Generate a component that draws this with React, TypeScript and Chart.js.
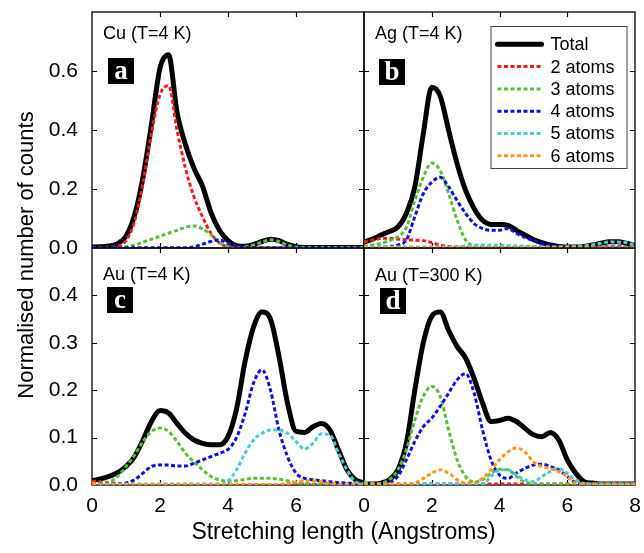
import React, { useEffect, useRef } from "react";
import { Chart, registerables } from "chart.js";

Chart.register(...registerables);

// ---------------- data ----------------
const X_VALUES = [
  0, 0.25, 0.5, 0.75, 1, 1.25, 1.5, 1.75, 2, 2.25, 2.5, 2.75, 3, 3.25, 3.5, 3.75, 4,
  4.25, 4.5, 4.75, 5, 5.25, 5.5, 5.75, 6, 6.25, 6.5, 6.75, 7, 7.25, 7.5, 7.75, 8,
];
const X_TICK_LABELS = ["0", "2", "4", "6", "8"];
const SERIES_NAMES = ["Total", "2 atoms", "3 atoms", "4 atoms", "5 atoms", "6 atoms"];
const PANEL_TITLES = ["Cu (T=4 K)", "Ag (T=4 K)", "Au (T=4 K)", "Au (T=300 K)"];
const PANEL_LETTERS = ["a", "b", "c", "d"];
const X_AXIS_TITLE = "Stretching length (Angstroms)";
const Y_AXIS_TITLE = "Normalised number of counts";

// Panel a: Cu (T=4 K)
const CU_TOTAL = [0.003, 0.004, 0.007, 0.014, 0.04, 0.11, 0.24, 0.42, 0.61, 0.655, 0.46, 0.35, 0.27, 0.21, 0.12, 0.06, 0.025, 0.008, 0.006, 0.012, 0.022, 0.03, 0.025, 0.012, 0.004, 0.002, 0.002, 0.002, 0.002, 0.002, 0.002, 0.002, 0.002];
const CU_2 = [0.002, 0.002, 0.003, 0.006, 0.025, 0.09, 0.22, 0.39, 0.52, 0.55, 0.4, 0.27, 0.173, 0.106, 0.05, 0.017, 0.004, 0.001, 0.001, 0.001, 0.001, 0.001, 0.001, 0.001, 0.001, 0.001, 0.001, 0.001, 0.001, 0.001, 0.001, 0.001, 0.001];
const CU_3 = [0.001, 0.001, 0.001, 0.001, 0.004, 0.01, 0.02, 0.03, 0.04, 0.05, 0.06, 0.07, 0.075, 0.065, 0.045, 0.018, 0.005, 0.002, 0.004, 0.01, 0.02, 0.028, 0.022, 0.01, 0.003, 0.002, 0.002, 0.002, 0.002, 0.002, 0.002, 0.002, 0.002];
const CU_4 = [0.001, 0.001, 0.001, 0.001, 0.001, 0.001, 0.001, 0.001, 0.001, 0.001, 0.001, 0.001, 0.004, 0.013, 0.022, 0.027, 0.016, 0.006, 0.002, 0.001, 0.001, 0.001, 0.001, 0.001, 0.001, 0.001, 0.001, 0.001, 0.001, 0.001, 0.001, 0.001, 0.001];

// Panel b: Ag (T=4 K)
const AG_TOTAL = [0.02, 0.03, 0.044, 0.056, 0.071, 0.117, 0.207, 0.387, 0.545, 0.515, 0.398, 0.285, 0.195, 0.134, 0.094, 0.08, 0.08, 0.077, 0.06, 0.044, 0.029, 0.018, 0.01, 0.005, 0.003, 0.003, 0.005, 0.01, 0.016, 0.021, 0.021, 0.016, 0.008];
const AG_2 = [0.02, 0.027, 0.032, 0.033, 0.03, 0.028, 0.027, 0.025, 0.018, 0.01, 0.005, 0.003, 0.002, 0.002, 0.002, 0.002, 0.002, 0.002, 0.002, 0.002, 0.002, 0.002, 0.002, 0.002, 0.002, 0.002, 0.002, 0.002, 0.002, 0.002, 0.002, 0.002, 0.002];
const AG_3 = [0.005, 0.01, 0.016, 0.025, 0.038, 0.07, 0.16, 0.24, 0.288, 0.262, 0.184, 0.094, 0.027, 0.007, 0.005, 0.004, 0.004, 0.004, 0.004, 0.004, 0.004, 0.004, 0.004, 0.004, 0.004, 0.004, 0.004, 0.004, 0.004, 0.004, 0.004, 0.004, 0.004];
const AG_4 = [0.002, 0.002, 0.003, 0.005, 0.01, 0.027, 0.106, 0.184, 0.223, 0.24, 0.207, 0.16, 0.117, 0.083, 0.066, 0.06, 0.06, 0.066, 0.049, 0.036, 0.025, 0.016, 0.008, 0.005, 0.003, 0.003, 0.003, 0.003, 0.003, 0.003, 0.003, 0.003, 0.003];
const AG_5 = [0.003, 0.003, 0.003, 0.003, 0.003, 0.003, 0.003, 0.003, 0.003, 0.003, 0.003, 0.005, 0.007, 0.01, 0.01, 0.01, 0.01, 0.008, 0.007, 0.006, 0.005, 0.004, 0.003, 0.003, 0.004, 0.005, 0.007, 0.011, 0.016, 0.021, 0.02, 0.018, 0.008];
const AG_6 = [0.001, 0.001, 0.001, 0.001, 0.001, 0.001, 0.001, 0.001, 0.001, 0.001, 0.001, 0.001, 0.001, 0.001, 0.001, 0.001, 0.001, 0.001, 0.001, 0.001, 0.001, 0.001, 0.001, 0.001, 0.001, 0.001, 0.001, 0.001, 0.001, 0.001, 0.001, 0.001, 0.001];

// Panel c: Au (T=4 K)
const AU4_TOTAL = [0.009, 0.013, 0.018, 0.026, 0.039, 0.06, 0.095, 0.134, 0.157, 0.152, 0.13, 0.109, 0.095, 0.088, 0.085, 0.085, 0.102, 0.16, 0.26, 0.333, 0.365, 0.35, 0.271, 0.173, 0.113, 0.111, 0.123, 0.13, 0.116, 0.074, 0.032, 0.011, 0.004];
const AU4_2 = [0.008, 0.007, 0.005, 0.003, 0.001, 0.001, 0.001, 0.001, 0.001, 0.001, 0.001, 0.001, 0.001, 0.001, 0.001, 0.001, 0.001, 0.001, 0.001, 0.001, 0.001, 0.001, 0.001, 0.001, 0.001, 0.001, 0.001, 0.001, 0.001, 0.001, 0.001, 0.001, 0.001];
const AU4_3 = [0.003, 0.004, 0.006, 0.018, 0.039, 0.063, 0.092, 0.113, 0.12, 0.113, 0.092, 0.067, 0.049, 0.032, 0.018, 0.011, 0.008, 0.009, 0.012, 0.014, 0.014, 0.014, 0.012, 0.009, 0.005, 0.003, 0.002, 0.002, 0.002, 0.002, 0.002, 0.002, 0.002];
const AU4_4 = [0.002, 0.002, 0.002, 0.003, 0.004, 0.011, 0.025, 0.039, 0.042, 0.042, 0.04, 0.04, 0.046, 0.053, 0.06, 0.067, 0.075, 0.1, 0.15, 0.215, 0.243, 0.2, 0.116, 0.06, 0.025, 0.014, 0.011, 0.009, 0.007, 0.005, 0.004, 0.003, 0.002];
const AU4_5 = [0.002, 0.002, 0.002, 0.002, 0.002, 0.002, 0.002, 0.002, 0.002, 0.002, 0.002, 0.002, 0.002, 0.002, 0.002, 0.002, 0.008, 0.032, 0.067, 0.095, 0.109, 0.116, 0.116, 0.109, 0.092, 0.076, 0.088, 0.108, 0.105, 0.068, 0.032, 0.007, 0.003];
const AU4_6 = [0.004, 0.001, 0.001, 0.001, 0.001, 0.001, 0.001, 0.001, 0.001, 0.001, 0.001, 0.001, 0.001, 0.001, 0.001, 0.001, 0.001, 0.001, 0.001, 0.001, 0.001, 0.001, 0.001, 0.003, 0.006, 0.009, 0.009, 0.007, 0.004, 0.002, 0.001, 0.001, 0.001];

// Panel d: Au (T=300 K)
const AU300_TOTAL = [0.002, 0.002, 0.004, 0.011, 0.032, 0.088, 0.2, 0.3, 0.356, 0.365, 0.326, 0.292, 0.268, 0.225, 0.173, 0.134, 0.136, 0.141, 0.134, 0.12, 0.106, 0.102, 0.111, 0.095, 0.053, 0.025, 0.007, 0.004, 0.002, 0.002, 0.002, 0.002, 0.002];
const AU300_2 = [0.002, 0.002, 0.002, 0.002, 0.002, 0.002, 0.002, 0.002, 0.002, 0.002, 0.002, 0.002, 0.002, 0.002, 0.002, 0.002, 0.002, 0.002, 0.002, 0.002, 0.002, 0.002, 0.002, 0.002, 0.002, 0.002, 0.002, 0.002, 0.002, 0.002, 0.002, 0.002, 0.002];
const AU300_3 = [0.002, 0.002, 0.004, 0.011, 0.032, 0.074, 0.137, 0.187, 0.208, 0.187, 0.116, 0.053, 0.018, 0.007, 0.011, 0.025, 0.033, 0.032, 0.018, 0.006, 0.003, 0.002, 0.002, 0.002, 0.002, 0.002, 0.002, 0.002, 0.002, 0.002, 0.002, 0.002, 0.002];
const AU300_4 = [0.002, 0.002, 0.002, 0.005, 0.018, 0.053, 0.092, 0.123, 0.141, 0.166, 0.194, 0.222, 0.235, 0.194, 0.116, 0.053, 0.021, 0.014, 0.025, 0.035, 0.042, 0.044, 0.039, 0.032, 0.018, 0.005, 0.002, 0.002, 0.002, 0.002, 0.002, 0.002, 0.002];
const AU300_5 = [0.007, 0.003, 0.002, 0.002, 0.002, 0.002, 0.002, 0.002, 0.002, 0.002, 0.002, 0.002, 0.002, 0.002, 0.002, 0.018, 0.032, 0.032, 0.021, 0.011, 0.007, 0.018, 0.028, 0.035, 0.025, 0.011, 0.003, 0.002, 0.002, 0.002, 0.002, 0.002, 0.002];
const AU300_6 = [0.002, 0.002, 0.002, 0.002, 0.002, 0.002, 0.004, 0.014, 0.025, 0.032, 0.025, 0.011, 0.004, 0.005, 0.014, 0.032, 0.053, 0.07, 0.078, 0.07, 0.049, 0.039, 0.035, 0.028, 0.018, 0.004, 0.002, 0.002, 0.002, 0.002, 0.002, 0.002, 0.002];

// ---------------- styles ----------------
const SERIES_COLORS = ["#000000", "#f01c1c", "#5cbd3b", "#0d0de6", "#4ccccc", "#ff961c"];
const FONT = "'Liberation Sans', Arial, Helvetica, sans-serif";
const W = 644;
const H = 553;

type Area = { l: number; t: number; r: number; b: number };
type Panel = {
  series: (number[] | null)[];
  yMax: number;
  yStep: number;
  showX: boolean;
  showY: boolean;
  hideLastX: boolean;
  legend: boolean;
  area: Area;
};

const PANELS: Panel[] = [
  { series: [CU_TOTAL, CU_2, CU_3, CU_4, null, null], yMax: 0.8, yStep: 0.2, showX: false, showY: true, hideLastX: false, legend: false, area: { l: 92, t: 12, r: 364, b: 248 } },
  { series: [AG_TOTAL, AG_2, AG_3, AG_4, AG_5, AG_6], yMax: 0.8, yStep: 0.2, showX: false, showY: false, hideLastX: false, legend: true, area: { l: 364, t: 12, r: 635, b: 248 } },
  { series: [AU4_TOTAL, AU4_2, AU4_3, AU4_4, AU4_5, AU4_6], yMax: 0.5, yStep: 0.1, showX: true, showY: true, hideLastX: true, legend: false, area: { l: 92, t: 248, r: 364, b: 485 } },
  { series: [AU300_TOTAL, AU300_2, AU300_3, AU300_4, AU300_5, AU300_6], yMax: 0.5, yStep: 0.1, showX: true, showY: false, hideLastX: false, legend: false, area: { l: 364, t: 248, r: 635, b: 485 } },
];

const framePlugin = {
  id: "frameTicks",
  beforeDatasetsDraw(chart: any) {
    const { ctx, chartArea: a, scales } = chart;
    ctx.save();
    ctx.strokeStyle = "#000";
    ctx.lineWidth = 1.3;
    ctx.strokeRect(a.left, a.top, a.right - a.left, a.bottom - a.top);
    ctx.lineWidth = 1.2;
    const len = 5;
    const xs = scales.x;
    const ys = scales.y;
    ctx.beginPath();
    xs.ticks.forEach((t: any) => {
      if (t.value <= xs.min + 1e-9 || t.value >= xs.max - 1e-9) return;
      const px = Math.round(xs.getPixelForValue(t.value)) + 0.5;
      ctx.moveTo(px, a.bottom);
      ctx.lineTo(px, a.bottom - len);
      ctx.moveTo(px, a.top);
      ctx.lineTo(px, a.top + len);
    });
    ys.ticks.forEach((t: any) => {
      if (t.value <= ys.min + 1e-9 || t.value >= ys.max - 1e-9) return;
      const py = Math.round(ys.getPixelForValue(t.value)) + 0.5;
      ctx.moveTo(a.left, py);
      ctx.lineTo(a.left + len, py);
      ctx.moveTo(a.right, py);
      ctx.lineTo(a.right - len, py);
    });
    ctx.stroke();
    ctx.restore();
  },
};

const legendPlugin = {
  id: "panelLegend",
  afterDatasetsDraw(chart: any) {
    const { ctx, chartArea: a } = chart;
    const boxW = 136;
    const boxH = 142;
    const left = a.right - 144.5;
    const top = a.top + 14;
    ctx.save();
    ctx.fillStyle = "#fff";
    ctx.fillRect(left, top, boxW, boxH);
    ctx.strokeStyle = "#444";
    ctx.lineWidth = 1;
    ctx.strokeRect(left + 0.5, top + 0.5, boxW, boxH);
    ctx.font = `18px ${FONT}`;
    ctx.textBaseline = "middle";
    ctx.textAlign = "left";
    chart.data.datasets.forEach((ds: any, i: number) => {
      const y = top + 18.3 + i * 22.3;
      ctx.strokeStyle = ds.borderColor;
      ctx.lineWidth = ds.borderWidth;
      ctx.setLineDash(ds.borderDash || []);
      ctx.lineCap = i === 0 ? "round" : "butt";
      ctx.beginPath();
      ctx.moveTo(left + 7, y);
      ctx.lineTo(left + 51, y);
      ctx.stroke();
      ctx.setLineDash([]);
      ctx.fillStyle = "#000";
      ctx.fillText(ds.label, left + 60, y + 1);
    });
    ctx.restore();
  },
};

function buildConfig(p: Panel): any {
  const datasets: any[] = [];
  p.series.forEach((vals, i) => {
    if (!vals) return;
    datasets.push({
      label: SERIES_NAMES[i],
      data: vals.map((y, k) => ({ x: X_VALUES[k], y })),
      borderColor: SERIES_COLORS[i],
      backgroundColor: SERIES_COLORS[i],
      borderWidth: i === 0 ? 5 : 3,
      borderDash: i === 0 ? [] : [4, 2.5],
      borderJoinStyle: "round",
      pointRadius: 0,
      cubicInterpolationMode: "monotone",
      fill: false,
      order: 10 - i,
    });
  });
  return {
    type: "line",
    data: { datasets },
    plugins: p.legend ? [framePlugin, legendPlugin] : [framePlugin],
    options: {
      animation: false,
      responsive: false,
      events: [],
      layout: { padding: { left: 0, top: p.area.t, right: W - p.area.r, bottom: 0 } },
      plugins: { legend: { display: false }, tooltip: { enabled: false }, title: { display: false } },
      scales: {
        x: {
          type: "linear",
          min: 0,
          max: 8,
          ticks: {
            stepSize: 2,
            display: p.showX,
            padding: 9,
            color: "#000",
            font: { size: 21, family: FONT },
            maxRotation: 0,
            autoSkip: false,
            callback: (v: number) => {
              if (p.hideLastX && v >= 8) return "";
              return X_TICK_LABELS[Math.round(v / 2)];
            },
          },
          grid: { display: false, drawTicks: false },
          border: { display: false },
          afterFit: (s: any) => {
            s.height = H - p.area.b;
            s.paddingLeft = 0;
            s.paddingRight = 0;
          },
        },
        y: {
          type: "linear",
          min: 0,
          max: p.yMax,
          ticks: {
            stepSize: p.yStep,
            display: p.showY,
            padding: 14,
            color: "#000",
            font: { size: 21, family: FONT },
            callback: (v: number) => (v >= p.yMax - 1e-9 ? "" : v.toFixed(1)),
          },
          grid: { display: false, drawTicks: false },
          border: { display: false },
          afterFit: (s: any) => {
            s.width = p.area.l;
            s.paddingTop = 0;
            s.paddingBottom = 0;
          },
        },
      },
    },
  };
}

function PanelCanvas({ panel }: { panel: Panel }) {
  const ref = useRef<HTMLCanvasElement | null>(null);
  useEffect(() => {
    if (!ref.current) return;
    const chart = new Chart(ref.current, buildConfig(panel));
    return () => chart.destroy();
  }, [panel]);
  return (
    <canvas
      ref={ref}
      width={W}
      height={H}
      style={{ position: "absolute", left: 0, top: 0, width: W, height: H, pointerEvents: "none" }}
    />
  );
}

const TITLE_POS = [
  { left: 103, top: 24 },
  { left: 375, top: 24 },
  { left: 103, top: 265 },
  { left: 375, top: 266 },
];
const BADGE_POS = [
  { left: 108, top: 58 },
  { left: 379, top: 59 },
  { left: 107, top: 287 },
  { left: 380, top: 288 },
];

export default function App() {
  return (
    <div
      style={{
        position: "fixed",
        left: 0,
        top: 0,
        width: W,
        height: H,
        background: "#fff",
        overflow: "hidden",
        fontFamily: FONT,
        color: "#000",
      }}
    >
      {PANELS.map((p, i) => (
        <PanelCanvas key={i} panel={p} />
      ))}
      {PANEL_TITLES.map((t, i) => (
        <div
          key={"t" + i}
          style={{
            position: "absolute",
            left: TITLE_POS[i].left,
            top: TITLE_POS[i].top,
            fontSize: 18,
            lineHeight: "18px",
            whiteSpace: "nowrap",
          }}
        >
          {t}
        </div>
      ))}
      {PANEL_LETTERS.map((l, i) => (
        <div
          key={"b" + i}
          style={{
            position: "absolute",
            left: BADGE_POS[i].left,
            top: BADGE_POS[i].top,
            width: 26,
            height: 26,
            background: "#000",
            color: "#fff",
            fontFamily: "'Liberation Serif', 'Times New Roman', serif",
            fontWeight: "bold",
            fontSize: 27,
            lineHeight: "24px",
            textAlign: "center",
          }}
        >
          {l}
        </div>
      ))}
      <div
        style={{
          position: "absolute",
          left: 143.5,
          width: 400,
          top: 520,
          fontSize: 23,
          lineHeight: "23px",
          textAlign: "center",
          whiteSpace: "nowrap",
        }}
      >
        {X_AXIS_TITLE}
      </div>
      <div
        style={{
          position: "absolute",
          left: 25.5 - 200,
          top: 255 - 11,
          width: 400,
          height: 22,
          fontSize: 22,
          lineHeight: "22px",
          textAlign: "center",
          whiteSpace: "nowrap",
          transform: "rotate(-90deg)",
          transformOrigin: "50% 50%",
        }}
      >
        {Y_AXIS_TITLE}
      </div>
    </div>
  );
}
